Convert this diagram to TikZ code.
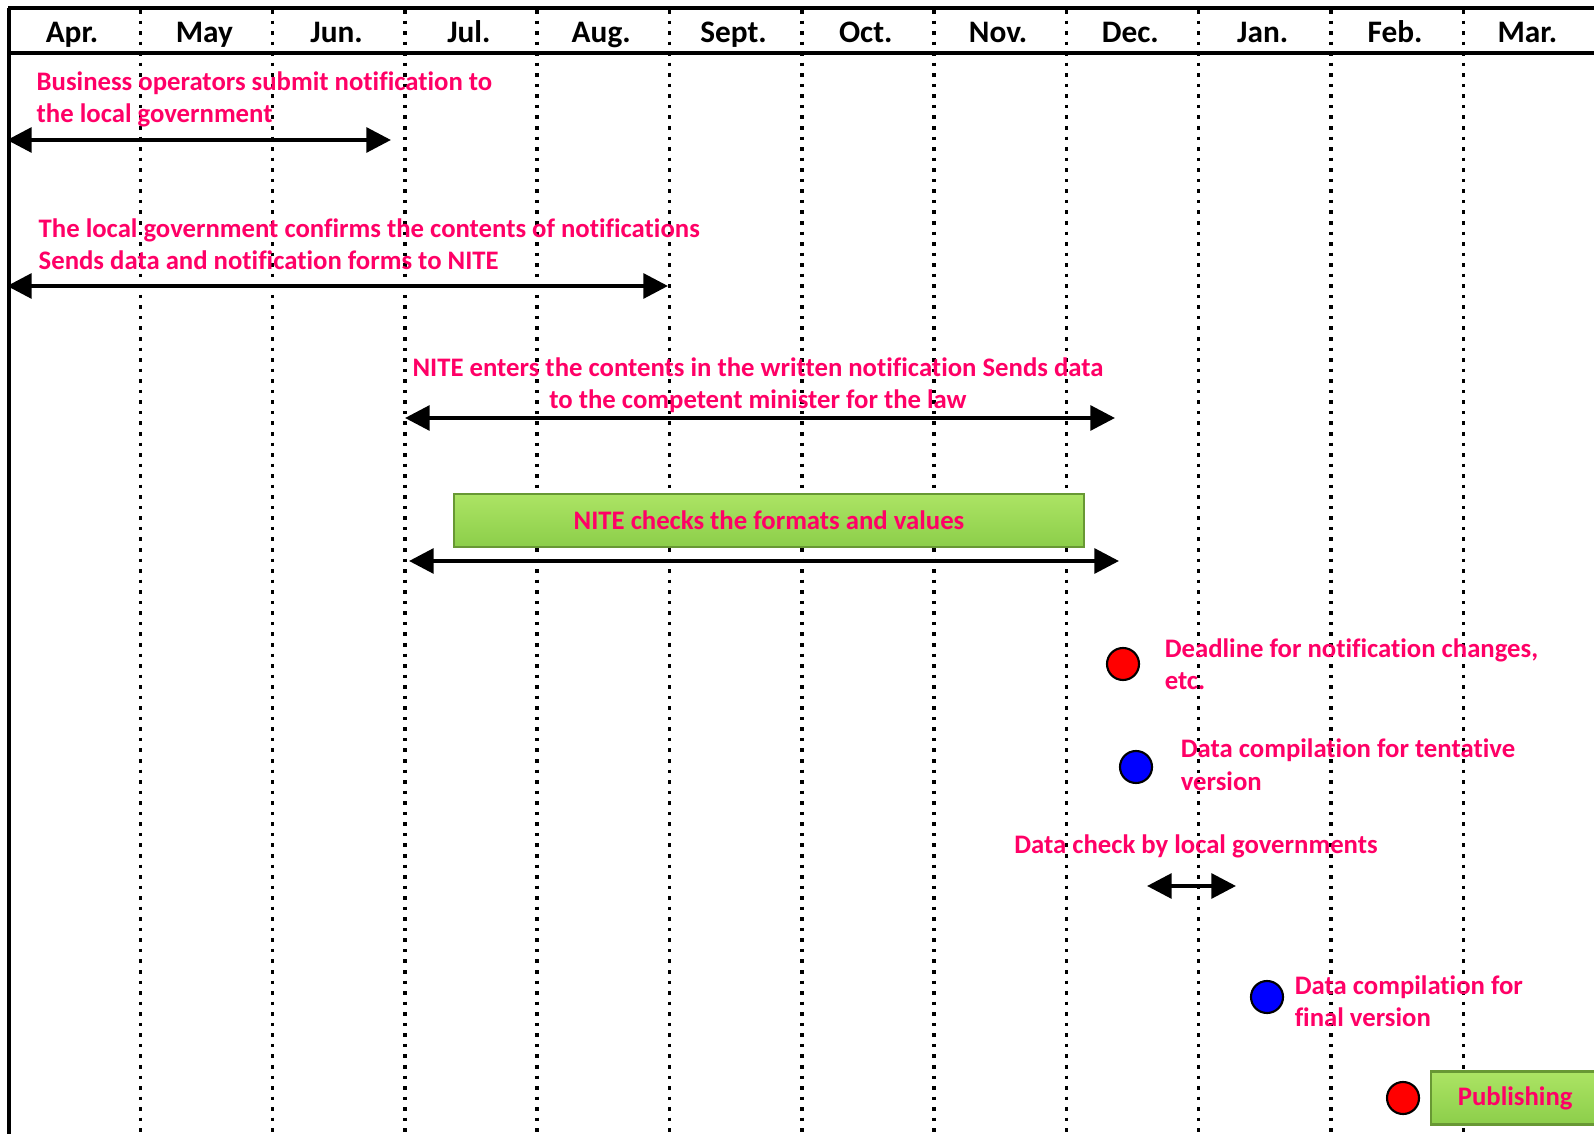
\documentclass[tikz,border=0pt]{standalone}
\usepackage{fontspec}
\setmainfont{Carlito}[Ligatures=NoCommon]
\usepackage{tikz}
\usetikzlibrary{arrows.meta, positioning}
\definecolor{notepink}{RGB}{255,0,102}
\definecolor{barlight}{RGB}{172,228,100}
\definecolor{bardark}{RGB}{140,206,74}
\definecolor{baredge}{RGB}{104,152,52}
\tikzset{
  month/.style={font=\fontsize{8.9}{10}\selectfont\bfseries, inner sep=0pt, anchor=base},
  note/.style={font=\fontsize{7.6}{9.2}\selectfont\bfseries, text=notepink, inner sep=0pt, align=left},
  span/.style={line width=1.15pt, {Triangle[length=7pt,width=7pt]}-{Triangle[length=7pt,width=7pt]}},
  divider/.style={line width=1pt, dash pattern=on 1pt off 2pt},
  bar/.style={draw=baredge, line width=0.6pt, top color=barlight, bottom color=bardark,
    font=\fontsize{7.6}{9.2}\selectfont\bfseries, text=notepink, minimum height=0.53cm},
  dot/.style={circle, draw, line width=0.6pt, minimum size=0.32cm, inner sep=0pt},
}
\begin{document}
\begin{tikzpicture}[x=0.01cm, y=-0.01cm]
\useasboundingbox (0,0) rectangle (1594,1134);

\foreach \k in {1,...,11}
  \draw[divider] (8+132.3*\k,10) -- (8+132.3*\k,1134);
\draw[line width=1pt] (9,1134) -- (9,8);
\draw[line width=1.15pt] (8,8) -- (1594,8);
\draw[line width=1.15pt] (9,53) -- (1594,53);

\foreach \m [count=\i from 0] in {Apr.,May,Jun.,Jul.,Aug.,Sept.,Oct.,Nov.,Dec.,Jan.,Feb.,Mar.}
  \node[month] (m\i) at (72+132.3*\i,43) {\m};

\node[note, anchor=base west] (submit) at (36,123) {Business operators submit notification to\\the local government};
\coordinate (s1) at (7,140);
\coordinate (e1) at (391,140);
\draw[span] (s1) -- (e1);

\node[note, anchor=base west] (confirm) at (38,270) {The local government confirms the contents of notifications\\Sends data and notification forms to NITE};
\coordinate (s2) at (7,286);
\coordinate (e2) at (668,286);
\draw[span] (s2) -- (e2);

\node[note, align=center, anchor=base] (enter) at (758,409) {NITE enters the contents in the written notification Sends data\\to the competent minister for the law};
\coordinate (s3) at (405,418);
\coordinate (e3) at (1115,418);
\draw[span] (s3) -- (e3);

\node[bar, minimum width=6.30cm] (check) at (769,520.5) {NITE checks the formats and values};
\coordinate (s4) at (409,561);
\coordinate (e4) at (1119,561);
\draw[span] (s4) -- (e4);

\node[dot, fill=red] (d1) at (1123,664) {};
\node[note, right=0.24cm of d1] (deadline) {Deadline for notification changes,\\etc.};

\node[dot, fill=blue] (d2) at (1136,767) {};
\node[note, right=0.27cm of d2, yshift=0.6pt] (tentative) {Data compilation for tentative\\version};

\node[note, anchor=base] (localchk) at (1196,853) {Data check by local governments};
\coordinate (s5) at (1147,886);
\coordinate (e5) at (1236,886);
\draw[span] (s5) -- (e5);

\node[dot, fill=blue] (d3) at (1267,997) {};
\node[note, right=0.10cm of d3, yshift=-1.2pt] (final) {Data compilation for\\final version};

\node[dot, fill=red] (d4) at (1403,1098) {};
\node[bar, right=0.10cm of d4, minimum width=1.68cm] (publish) {Publishing};
\end{tikzpicture}
\end{document}
